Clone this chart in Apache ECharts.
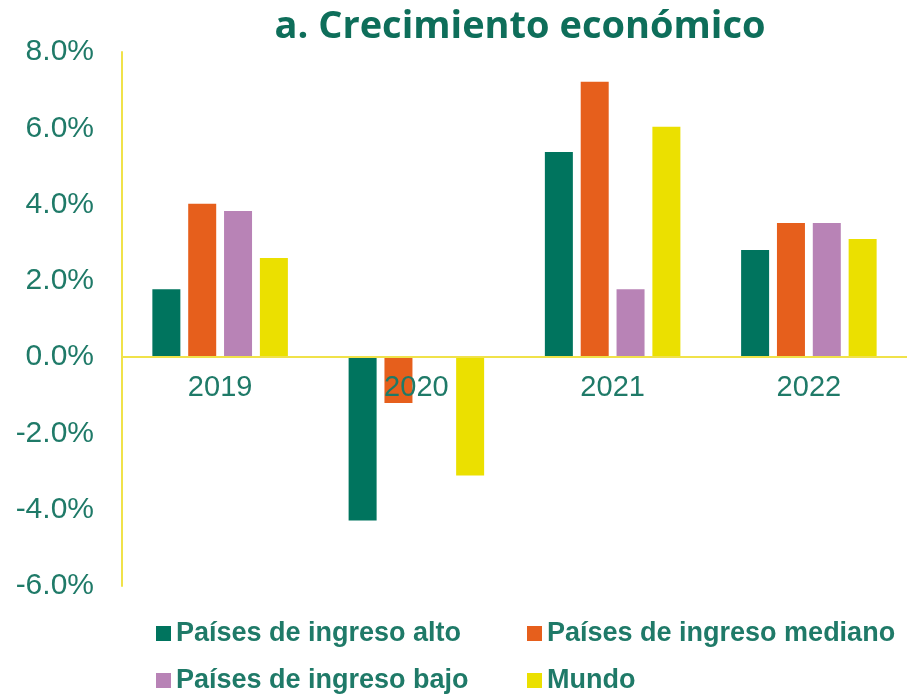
<!DOCTYPE html>
<html>
<head>
<meta charset="utf-8">
<script src="https://cdn.jsdelivr.net/npm/echarts@6/dist/echarts.min.js"></script>
<style>html,body{margin:0;padding:0;background:#fff}#c{width:907px;height:696px}</style>
</head>
<body>
<div id="c"></div>
<script>
const categories = ['2019', '2020', '2021', '2022'];
const seriesNames = ['Países de ingreso alto', 'Países de ingreso mediano', 'Países de ingreso bajo', 'Mundo'];
const altoValues = [1.78, -4.28, 5.38, 2.81];
const medianoValues = [4.02, -1.2, 7.22, 3.52];
const bajoValues = [3.83, 0, 1.78, 3.52];
const mundoValues = [2.6, -3.1, 6.04, 3.1];
const yTicks = [-6, -4, -2, 0, 2, 4, 6, 8];

const colors = ['#00745e', '#e65f1c', '#b883b6', '#ebe000'];
const textColor = '#1f7a68';
const allValues = [altoValues, medianoValues, bajoValues, mundoValues];

const gridTop = 52, gridBottom = 110, H = 696;
const yMin = yTicks[0], yMax = yTicks[yTicks.length - 1];
const plotH = H - gridTop - gridBottom;
const zeroOffset = -plotH * (0 - yMin) / (yMax - yMin);

const chart = echarts.init(document.getElementById('c'), null, {renderer: 'canvas'});
const legendPos = [
  {left: 156, top: 620},
  {left: 527, top: 620},
  {left: 156, top: 667},
  {left: 527, top: 667}
];
chart.setOption({
  animation: false,
  title: {
    text: 'a. Crecimiento económico',
    left: 515, textAlign: 'center', top: 3,
    textStyle: {fontFamily: 'Open Sans', fontWeight: 'bold', fontSize: 38, color: '#0e6e5a'}
  },
  legend: seriesNames.map((n, i) => ({
    data: [n],
    left: legendPos[i].left, top: legendPos[i].top,
    icon: 'rect', itemWidth: 15, itemHeight: 15, padding: 0,
    textStyle: {fontFamily: 'Liberation Sans', fontWeight: 'bold', fontSize: 27, color: textColor, padding: [3, 0, 0, 0]}
  })),
  color: colors,
  grid: {left: 122, right: -4, top: gridTop, bottom: gridBottom, containLabel: false},
  xAxis: {
    type: 'category', data: categories,
    offset: zeroOffset,
    z: 10,
    axisLine: {onZero: false, lineStyle: {color: '#f0e24a', width: 2}},
    axisTick: {show: false},
    axisLabel: {fontFamily: 'Liberation Sans', fontSize: 29, color: textColor, margin: 16}
  },
  yAxis: {
    type: 'value', min: yMin, max: yMax, interval: 2,
    axisLine: {show: true, lineStyle: {color: '#f0e24a', width: 2}},
    axisTick: {show: false},
    splitLine: {show: false},
    axisLabel: {fontFamily: 'Liberation Sans', fontSize: 30, color: textColor, margin: 28,
      formatter: v => v.toFixed(1) + '%'}
  },
  series: seriesNames.map((n, i) => ({
    name: n, type: 'bar', data: allValues[i],
    barWidth: 28, barGap: '28%',
    itemStyle: {color: colors[i]}
  }))
});
</script>
</body>
</html>
